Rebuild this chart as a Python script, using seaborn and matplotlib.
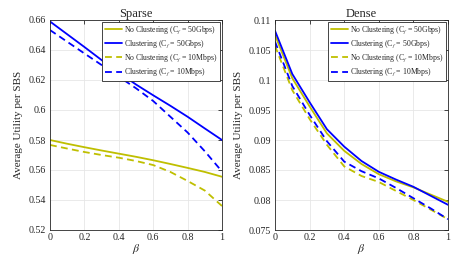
import numpy as np
import pandas as pd
import matplotlib
matplotlib.use("Agg")
import matplotlib.pyplot as plt
import seaborn as sns

beta = [0.0, 0.1, 0.2, 0.3, 0.4, 0.5, 0.6, 0.7, 0.8, 0.9, 1.0]

series_labels = [
    r"No Clustering (C$_f$ = 50Gbps)",
    r"Clustering (C$_f$ = 50Gbps)",
    r"No Clustering (C$_f$ = 10Mbps)",
    r"Clustering (C$_f$ = 10Mbps)",
]

# Sparse panel
sparse_noclust_50g = [0.5800, 0.5775, 0.5752, 0.5730, 0.5709, 0.5688, 0.5665, 0.5640, 0.5614, 0.5587, 0.5555]
sparse_clust_50g = [0.6590, 0.6505, 0.6420, 0.6333, 0.6250, 0.6170, 0.6098, 0.6028, 0.5955, 0.5877, 0.5800]
sparse_noclust_10m = [0.5767, 0.5743, 0.5720, 0.5700, 0.5682, 0.5660, 0.5633, 0.5587, 0.5527, 0.5463, 0.5360]
sparse_clust_10m = [0.6533, 0.6455, 0.6377, 0.6300, 0.6222, 0.6145, 0.6060, 0.5955, 0.5850, 0.5725, 0.5590]

# Dense panel
dense_noclust_50g = [0.1075, 0.1003, 0.0956, 0.0911, 0.0882, 0.0860, 0.0843, 0.0831, 0.0821, 0.0809, 0.0797]
dense_clust_50g = [0.1082, 0.1010, 0.0963, 0.0918, 0.0889, 0.0865, 0.0847, 0.0834, 0.0822, 0.0807, 0.0792]
dense_noclust_10m = [0.1057, 0.0983, 0.0935, 0.0892, 0.0856, 0.0840, 0.0830, 0.0815, 0.0800, 0.0784, 0.0768]
dense_clust_10m = [0.1064, 0.0990, 0.0942, 0.0898, 0.0864, 0.0848, 0.0836, 0.0820, 0.0803, 0.0786, 0.0768]

x_ticks = [0, 0.2, 0.4, 0.6, 0.8, 1]
x_ticklabels = ["0", "0.2", "0.4", "0.6", "0.8", "1"]
sparse_yticks = [0.52, 0.54, 0.56, 0.58, 0.60, 0.62, 0.64, 0.66]
sparse_yticklabels = ["0.52", "0.54", "0.56", "0.58", "0.6", "0.62", "0.64", "0.66"]
dense_yticks = [0.075, 0.08, 0.085, 0.09, 0.095, 0.1, 0.105, 0.11]
dense_yticklabels = ["0.075", "0.08", "0.085", "0.09", "0.095", "0.1", "0.105", "0.11"]

sns.set_theme(style="whitegrid")
plt.rcParams["font.family"] = ["Liberation Serif", "DejaVu Serif"]
plt.rcParams["mathtext.fontset"] = "stix"

YELLOW = "#BFBF00"
BLUE = "#0000FF"
colors = [YELLOW, BLUE, YELLOW, BLUE]
styles = ["-", "-", "--", "--"]

fig = plt.figure(figsize=(4.77, 2.59), dpi=100)
ax1 = fig.add_axes([50 / 477, 1 - 230 / 259, 172 / 477, 210 / 259])
ax2 = fig.add_axes([275 / 477, 1 - 230 / 259, 173 / 477, 210 / 259])


def draw(ax, data, title, yticks, yticklabels, ylim):
    for vals, lab, c, ls in zip(data, series_labels, colors, styles):
        df = pd.DataFrame({"beta": beta, "u": vals})
        sns.lineplot(data=df, x="beta", y="u", ax=ax, color=c, linewidth=1.3, label=lab)
        ln = ax.get_lines()[-1]
        ln.set_linestyle(ls)
        if ls == "--":
            ln.set_dashes((3.8, 2.4))
    ax.set_xlim(0, 1)
    ax.set_ylim(*ylim)
    ax.set_xticks(x_ticks)
    ax.set_xticklabels(x_ticklabels)
    ax.set_yticks(yticks)
    ax.set_yticklabels(yticklabels)
    ax.set_title(title, fontsize=9, pad=2)
    ax.set_xlabel(r"$\beta$", fontsize=8.5, labelpad=0)
    ax.set_ylabel("Average Utility per SBS", fontsize=8)
    ax.tick_params(axis="both", direction="in", labelsize=7.2, length=3, width=0.6,
                   top=True, right=True, pad=3, colors="#262626")
    ax.tick_params(axis="x", pad=2)
    ax.grid(True, color="#e6e6e6", linewidth=0.6)
    for s in ax.spines.values():
        s.set_color("#262626")
        s.set_linewidth(0.6)
        s.set_visible(True)
    leg = ax.legend(loc="upper right", fontsize=5.6, handlelength=2.2, frameon=True,
                    fancybox=False, edgecolor="#262626", borderpad=0.35,
                    labelspacing=0.3, handletextpad=0.3, borderaxespad=0.2)
    leg.get_frame().set_linewidth(0.6)
    leg.get_frame().set_alpha(1)


draw(ax1, [sparse_noclust_50g, sparse_clust_50g, sparse_noclust_10m, sparse_clust_10m],
     "Sparse", sparse_yticks, sparse_yticklabels, (0.52, 0.66))
draw(ax2, [dense_noclust_50g, dense_clust_50g, dense_noclust_10m, dense_clust_10m],
     "Dense", dense_yticks, dense_yticklabels, (0.075, 0.11))

fig.savefig("out.png", dpi=100)
